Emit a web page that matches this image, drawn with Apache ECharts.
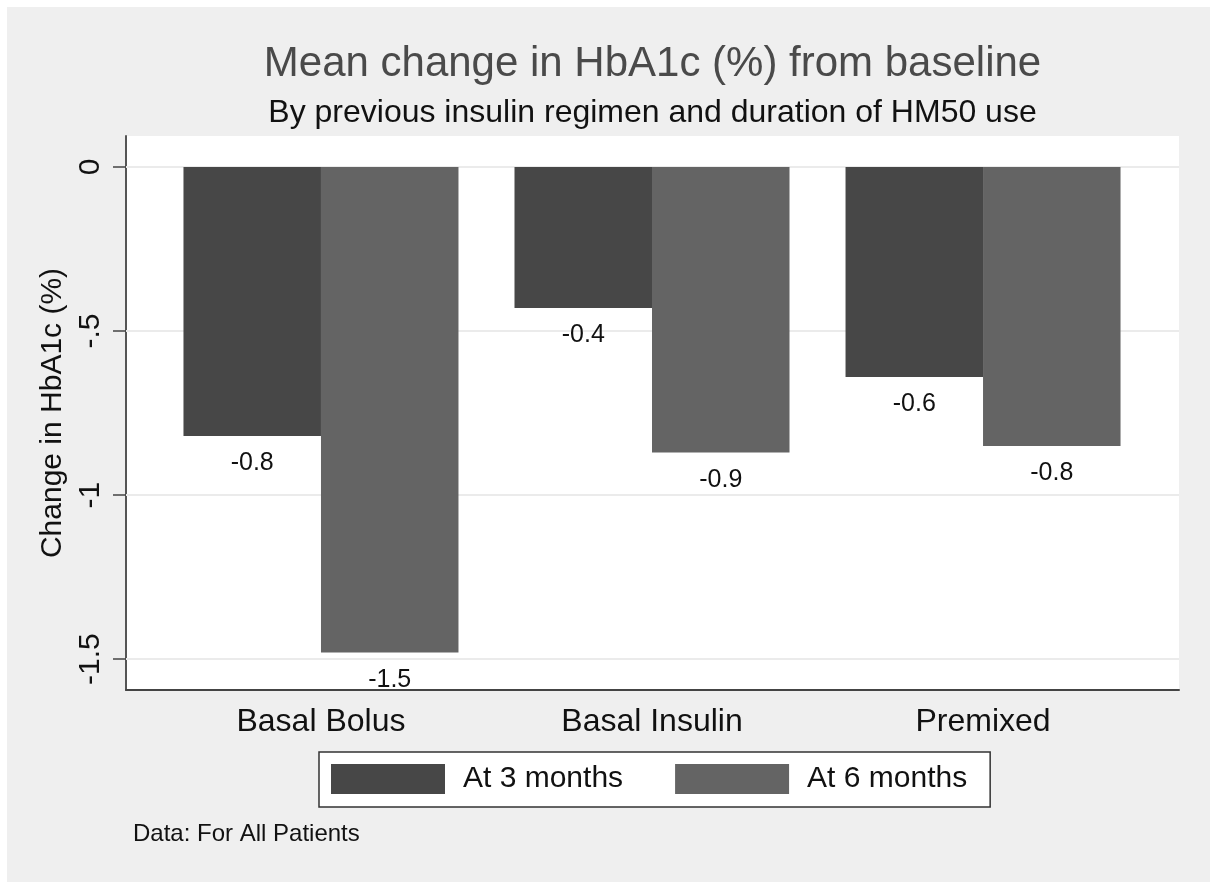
<!DOCTYPE html>
<html>
<head>
<meta charset="utf-8">
<title>Mean change in HbA1c</title>
<script src="https://cdn.jsdelivr.net/npm/echarts@6/dist/echarts.min.js"></script>
<style>
    html, body { margin: 0; padding: 0; background: #ffffff; overflow: hidden; width: 100%; height: 100%; }
    /* chart runs past the window edge on the right and bottom; only the top and left keep a white strip */
    #chart { position: absolute; left: 7px; top: 7px; width: 1210px; height: 882px; }
</style>
</head>
<body>
<div id="chart"></div>
<script>
// Data
const categories = ['Basal Bolus', 'Basal Insulin', 'Premixed'];
const seriesNames = ['At 3 months', 'At 6 months'];
const at3Months = [-0.82, -0.43, -0.64];
const at6Months = [-1.48, -0.87, -0.85];
const yTicks = [0, -0.5, -1, -1.5];
const yTickLabels = ['0', '-.5', '-1', '-1.5'];

const FONT = '"Liberation Sans", Arial, sans-serif';
const DARK = '#474747';
const LIGHT = '#646464';

const chart = echarts.init(document.getElementById('chart'));

// bars sit on a value x axis so the groups can keep Stata's outer gaps
function toPoints(values) {
    return values.map(function (v, i) { return [i, v]; });
}

function barSeries(name, values, color) {
    return {
        name: name,
        type: 'bar',
        barWidth: 137.5,
        barGap: 0,
        itemStyle: { color: color },
        label: {
            show: true,
            position: 'bottom',
            distance: 15,
            color: '#111',
            fontFamily: FONT,
            fontSize: 25,
            formatter: function (p) { return p.value[1].toFixed(1); }
        },
        data: toPoints(values)
    };
}

const options = {
    backgroundColor: '#efefef',
    animation: false,
    title: [
        {
            text: 'Mean change in HbA1c (%) from baseline',
            subtext: 'By previous insulin regimen and duration of HM50 use',
            left: 645.5,
            top: 36,
            textAlign: 'center',
            padding: 0,
            itemGap: 12,
            textStyle: {
                color: '#4a4a4a',
                fontFamily: FONT,
                fontWeight: 'normal',
                fontSize: 42,
                lineHeight: 42
            },
            subtextStyle: {
                color: '#111',
                fontFamily: FONT,
                fontSize: 32,
                lineHeight: 32
            }
        },
        {
            text: 'Data: For All Patients',
            left: 126,
            top: 815,
            padding: 0,
            textStyle: {
                color: '#111',
                fontFamily: FONT,
                fontWeight: 'normal',
                fontSize: 24,
                lineHeight: 24
            }
        }
    ],
    legend: {
        left: 312,
        top: 745,
        orient: 'horizontal',
        icon: 'rect',
        itemWidth: 114,
        itemHeight: 30,
        itemGap: 52,
        padding: [12, 23, 13, 12],
        backgroundColor: '#ffffff',
        borderColor: '#333',
        borderWidth: 1.5,
        borderRadius: 0,
        selectedMode: false,
        textStyle: {
            color: '#111',
            fontFamily: FONT,
            fontSize: 30,
            lineHeight: 30,
            padding: [0, 0, 0, 13]
        },
        data: seriesNames
    },
    grid: {
        left: 119,
        right: 38,
        top: 129,
        bottom: 199,
        show: true,
        backgroundColor: '#ffffff',
        borderWidth: 0
    },
    xAxis: {
        type: 'value',
        min: -0.589,
        max: 2.592,
        axisLine: { show: true, onZero: false, lineStyle: { color: '#444', width: 2 } },
        axisTick: { show: false },
        splitLine: { show: false },
        axisLabel: {
            customValues: categories.map(function (c, i) { return i; }),
            margin: 16,
            color: '#111',
            fontFamily: FONT,
            fontSize: 32,
            formatter: function (v) { return categories[Math.round(v)]; }
        }
    },
    yAxis: {
        type: 'value',
        min: -1.594,
        max: 0.0945,
        name: 'Change in HbA1c (%)',
        nameLocation: 'middle',
        nameGap: 44,
        nameTextStyle: {
            color: '#111',
            fontFamily: FONT,
            fontSize: 30,
            lineHeight: 30
        },
        axisLine: { show: true, onZero: false, lineStyle: { color: '#555', width: 2 } },
        axisTick: {
            show: true,
            customValues: yTicks,
            length: 13,
            lineStyle: { color: '#444', width: 1.5 }
        },
        splitLine: { show: false },
        axisLabel: {
            customValues: yTicks,
            rotate: 90,
            margin: 20,
            color: '#111',
            fontFamily: FONT,
            fontSize: 30,
            lineHeight: 30,
            formatter: function (v) {
                const i = yTicks.findIndex(function (t) { return Math.abs(t - v) < 1e-6; });
                return i >= 0 ? yTickLabels[i] : '';
            }
        }
    },
    series: [
        barSeries(seriesNames[0], at3Months, DARK),
        barSeries(seriesNames[1], at6Months, LIGHT),
        {
            // horizontal grid lines at the y ticks, kept under the bars
            type: 'line',
            data: [],
            silent: true,
            markLine: {
                silent: true,
                z: 1,
                symbol: 'none',
                label: { show: false },
                lineStyle: { color: '#ebebeb', width: 2, type: 'solid' },
                data: yTicks.map(function (t) { return { yAxis: t }; })
            }
        }
    ]
};

chart.setOption(options);
</script>
</body>
</html>
